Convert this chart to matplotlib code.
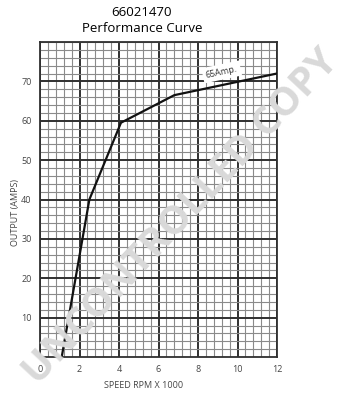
import numpy as np
import matplotlib
matplotlib.use("Agg")
import matplotlib.pyplot as plt
from matplotlib.ticker import MultipleLocator

plt.rcParams["font.family"] = ["Open Sans", "DejaVu Sans"]
NARROW = ["Liberation Sans Narrow", "Open Sans", "DejaVu Sans"]

# ── Data ────────────────────────────────────────────────────────────────────
SPEED_KRPM = [1.1, 2.5, 4.1, 6.8, 12.0]
OUTPUT_AMPS = [0.0, 40.0, 59.5, 66.5, 72.0]

X_TICKS = [0, 2, 4, 6, 8, 10, 12]
Y_TICKS = [10, 20, 30, 40, 50, 60, 70]

PART_NO = "66021470"
CURVE_LABEL = "65Amp."
WATERMARK = "UNCONTROLLED COPY"

fig = plt.figure(figsize=(3.52, 4.0), dpi=100)
ax = fig.add_axes([40 / 352, 1 - 357 / 400, 237 / 352, 315 / 400])

ax.set_xlim(0, 12)
ax.set_ylim(0, 80)

# graph-paper grid: fine lines every 0.4 / 2, heavy lines every 2 / 10
ax.xaxis.set_major_locator(MultipleLocator(2))
ax.xaxis.set_minor_locator(MultipleLocator(0.4))
ax.yaxis.set_major_locator(MultipleLocator(10))
ax.yaxis.set_minor_locator(MultipleLocator(2))
ax.grid(which="minor", color="#8a8a8a", linewidth=0.8)
ax.grid(which="major", color="#303030", linewidth=1.4)
ax.set_axisbelow(True)
for sp in ax.spines.values():
    sp.set_color("#303030")
    sp.set_linewidth(1.3)

ax.set_xticks(X_TICKS)
ax.set_xticklabels([str(t) for t in X_TICKS], family=NARROW)
ax.set_yticks(Y_TICKS)
ax.set_yticklabels([str(t) for t in Y_TICKS], family=NARROW)
ax.tick_params(which="both", length=0, labelsize=6.5, labelcolor="#444444", pad=6)

ax.plot(SPEED_KRPM, OUTPUT_AMPS, color="#111111", linewidth=1.6, zorder=3)

ax.text(9.2, 72.4, CURVE_LABEL, rotation=12, fontsize=6.5, color="#333333",
        ha="center", va="center", zorder=4,
        bbox=dict(boxstyle="square,pad=0.35", facecolor="white", edgecolor="none"))

ax.set_xlabel("SPEED RPM X 1000", fontsize=6.5, color="#444444", family=NARROW)
ax.xaxis.set_label_coords(104 / 237, -24 / 315)
ax.set_ylabel("OUTPUT (AMPS)", fontsize=6.5, color="#444444", family=NARROW)
ax.yaxis.set_label_coords(-20 / 237, 0.46)

fig.text(142 / 352, 1 - 12 / 400, PART_NO, ha="center", va="center", fontsize=9.5)
fig.text(142 / 352, 1 - 29 / 400, "Performance Curve", ha="center", va="center",
         fontsize=9.5)

fig.text(181 / 352, 1 - 217 / 400, WATERMARK, rotation=47, ha="center", va="center",
         fontsize=28.5, fontweight="bold", color="#d9d9d9", zorder=10,
         family=NARROW, rotation_mode="anchor")

fig.savefig("out.png", dpi=100)
